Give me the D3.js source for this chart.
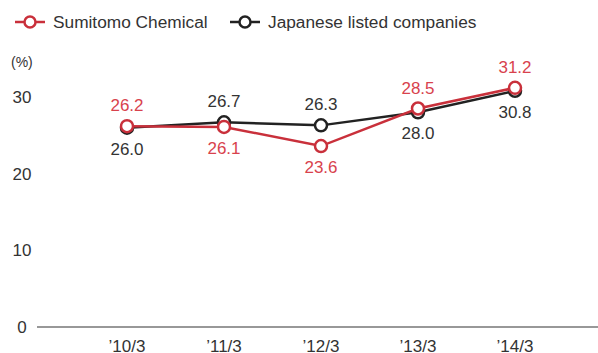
<!DOCTYPE html>
<html><head><meta charset="utf-8">
<script src="https://cdn.jsdelivr.net/npm/d3@7"></script>
<style>body{margin:0;background:#fff}svg{display:block}text{font-family:"Liberation Sans",Arial,sans-serif}</style>
</head><body><svg id="c" width="598" height="353"></svg>
<script>
const categories = ["’10/3","’11/3","’12/3","’13/3","’14/3"];
const sumitomo = [26.2, 26.1, 23.6, 28.5, 31.2];
const japanese = [26.0, 26.7, 26.3, 28.0, 30.8];
const sumitomoLabelPos = ["above","below","below","above","above"];
const japaneseLabelPos = ["below","above","above","below","below"];
const yTicks = [0,10,20,30];

const svg = d3.select("#c");
const x = d3.scalePoint().domain(categories).range([127,515]);
const y = d3.scaleLinear().domain([0,30]).range([327,97]);

const red = "#c9303b", redText = "#d8424d", dark = "#222", darkText = "#333";

svg.append("line").attr("x1",37).attr("x2",598).attr("y1",y(0)).attr("y2",y(0)).attr("stroke","#333").attr("stroke-width",1.2);
svg.selectAll(".yt").data(yTicks).enter().append("text")
  .attr("x",22).attr("y",d=>y(d)+6).attr("text-anchor","middle")
  .attr("font-size",17).attr("fill",darkText).text(d=>d);
svg.append("text").attr("x",11).attr("y",67).attr("font-size",14).attr("fill",darkText).text("(%)");
svg.selectAll(".xt").data(categories).enter().append("text")
  .attr("x",d=>x(d)).attr("y",352).attr("text-anchor","middle")
  .attr("font-size",17).attr("fill",darkText).text(d=>d);

function series(vals, color, textColor, pos){
  const line = d3.line().x((d,i)=>x(categories[i])).y(d=>y(d));
  svg.append("path").datum(vals).attr("d",line).attr("fill","none").attr("stroke",color).attr("stroke-width",2.5);
  svg.selectAll(null).data(vals).enter().append("circle")
    .attr("cx",(d,i)=>x(categories[i])).attr("cy",d=>y(d)).attr("r",6)
    .attr("fill","#fff").attr("stroke",color).attr("stroke-width",2.5);
  svg.selectAll(null).data(vals).enter().append("text")
    .attr("x",(d,i)=>x(categories[i]))
    .attr("y",(d,i)=>pos[i]==="above"? y(d)-15 : y(d)+27)
    .attr("text-anchor","middle").attr("font-size",17).attr("fill",textColor)
    .text(d=>d.toFixed(1));
}
series(japanese, dark, darkText, japaneseLabelPos);
series(sumitomo, red, redText, sumitomoLabelPos);

const legend = [{name:"Sumitomo Chemical", color:red, x:15},{name:"Japanese listed companies", color:dark, x:230}];
legend.forEach(l=>{
  const g = svg.append("g");
  g.append("line").attr("x1",l.x).attr("x2",l.x+30).attr("y1",22).attr("y2",22).attr("stroke",l.color).attr("stroke-width",2.5);
  g.append("circle").attr("cx",l.x+15).attr("cy",22).attr("r",5.5).attr("fill","#fff").attr("stroke",l.color).attr("stroke-width",2.5);
  g.append("text").attr("x",l.x+38).attr("y",28).attr("font-size",17.3).attr("fill",darkText).text(l.name);
});
</script></body></html>
